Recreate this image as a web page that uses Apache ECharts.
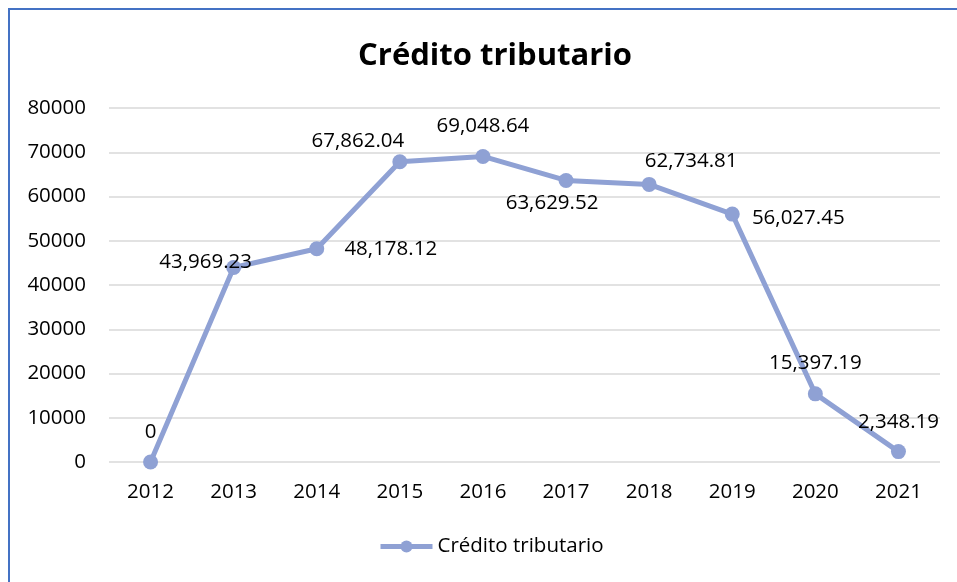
<!DOCTYPE html>
<html>
<head>
<meta charset="utf-8">
<script src="https://cdn.jsdelivr.net/npm/echarts@6/dist/echarts.min.js"></script>
<style>
  html, body { margin: 0; padding: 0; background: #fff; }
  #main { width: 957px; height: 582px; }
</style>
</head>
<body>
<div id="main"></div>
<script>
var chart = echarts.init(document.getElementById('main'));

var years = ['2012', '2013', '2014', '2015', '2016', '2017', '2018', '2019', '2020', '2021'];
var credito = [0, 43969.23, 48178.12, 67862.04, 69048.64, 63629.52, 62734.81, 56027.45, 15397.19, 2348.19];
// where each value label sits, relative to its point
var labelOffsets = [[0, -30], [-28, -5], [74, 0], [-42, -21], [0, -30], [-14, 23], [42, -23], [66, 4], [0, -31], [0, -29]];

var font = '"Open Sans", "Noto Sans", sans-serif';
var lineColor = '#8fa1d4';

function fmt(v) {
    if (v === 0) return '0';
    return v.toLocaleString('en-US', {minimumFractionDigits: 2, maximumFractionDigits: 2});
}

var points = credito.map(function (v, i) {
    return {
        value: v,
        label: { offset: labelOffsets[i] }
    };
});

option = {
    animation: false,
    title: {
        text: 'Crédito tributario',
        left: 490,
        top: 36,
        textAlign: 'center',
        textStyle: { fontFamily: font, fontSize: 31, fontWeight: 'bold', color: '#000' }
    },
    graphic: [{
        type: 'rect',
        shape: { x: 9, y: 9, width: 970, height: 600 },
        style: { fill: 'none', stroke: '#4472c4', lineWidth: 2 }
    }],
    legend: {
        bottom: 20,
        left: 373,
        itemWidth: 52,
        itemHeight: 15,
        itemGap: 8,
        selectedMode: false,
        lineStyle: { width: 5 },
        textStyle: { fontFamily: font, fontSize: 20.5, color: '#000' }
    },
    grid: { left: 109, right: 17, top: 108, bottom: 120 },
    xAxis: {
        type: 'category',
        data: years,
        axisLine: { show: false },
        axisTick: { show: false },
        axisLabel: { fontFamily: font, fontSize: 20.5, color: '#000', margin: 20 }
    },
    yAxis: {
        type: 'value',
        min: 0,
        max: 80000,
        interval: 10000,
        axisLabel: { fontFamily: font, fontSize: 20.5, color: '#000', margin: 23, formatter: function (v) { return String(v); } },
        splitLine: { lineStyle: { color: '#d9d9d9', width: 1.5 } }
    },
    series: [{
        name: 'Crédito tributario',
        type: 'line',
        data: points,
        symbol: 'circle',
        symbolSize: 15,
        lineStyle: { color: lineColor, width: 5 },
        itemStyle: { color: lineColor },
        label: {
            show: true,
            position: 'inside',
            align: 'center',
            verticalAlign: 'middle',
            fontFamily: font,
            fontSize: 20.5,
            color: '#000',
            formatter: function (p) { return fmt(p.value); }
        }
    }]
};
chart.setOption(option);
</script>
</body>
</html>
